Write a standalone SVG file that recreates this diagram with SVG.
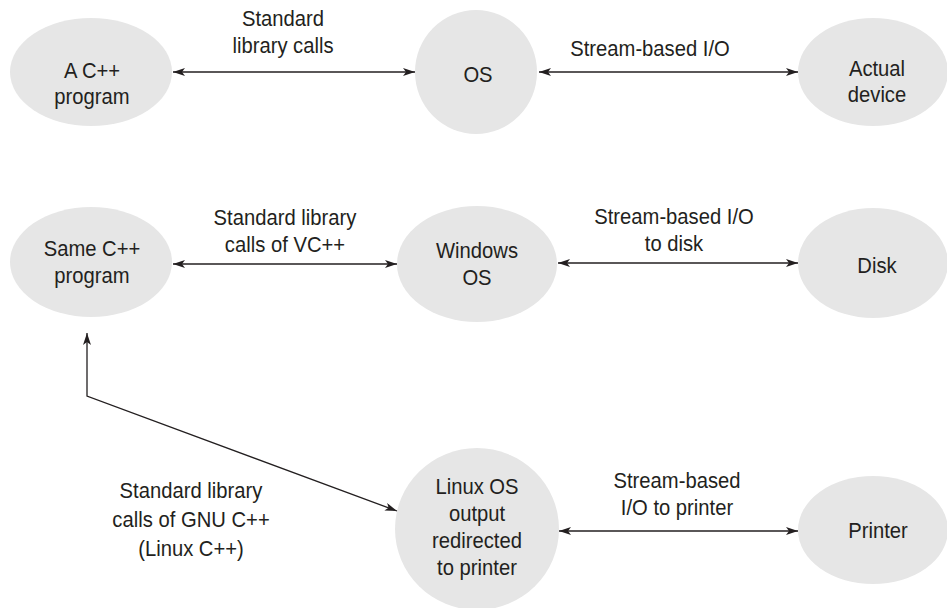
<svg xmlns="http://www.w3.org/2000/svg" width="947" height="608" viewBox="0 0 947 608">
<style>
.n{fill:#e6e6e6;stroke:none}
text{font-family:"Liberation Sans",Arial,sans-serif;font-size:22px;fill:#231f20;text-anchor:middle}
.c{fill:none;stroke:#231f20;stroke-width:1.3}
</style>
<defs>
<marker id="ah" viewBox="0 0 12 8" refX="12" refY="4" markerWidth="12" markerHeight="8" markerUnits="userSpaceOnUse" orient="auto-start-reverse">
<path d="M0,0 L12,4 L0,8 L3,4 Z" fill="#231f20"/>
</marker>
</defs>
<rect width="947" height="608" fill="#fff"/>
<g id="n-acpp"><ellipse class="n" cx="91" cy="72" rx="81" ry="54"/><text transform="translate(92,78) scale(0.92,1)">A C++</text><text transform="translate(92,104) scale(0.92,1)">program</text></g>
<g id="n-os"><ellipse class="n" cx="476" cy="72" rx="61" ry="62"/><text transform="translate(478,82) scale(0.92,1)">OS</text></g>
<g id="n-actual"><ellipse class="n" cx="873" cy="72" rx="75" ry="54"/><text transform="translate(877,76) scale(0.92,1)">Actual</text><text transform="translate(877,102) scale(0.92,1)">device</text></g>
<g id="n-same"><ellipse class="n" cx="91" cy="262" rx="81" ry="55"/><text transform="translate(92,256) scale(0.92,1)">Same C++</text><text transform="translate(92,283) scale(0.92,1)">program</text></g>
<g id="n-win"><ellipse class="n" cx="477" cy="264" rx="80" ry="58"/><text transform="translate(477,258) scale(0.92,1)">Windows</text><text transform="translate(477,285) scale(0.92,1)">OS</text></g>
<g id="n-disk"><ellipse class="n" cx="873" cy="263" rx="75" ry="55"/><text transform="translate(877,273) scale(0.92,1)">Disk</text></g>
<g id="n-linux"><ellipse class="n" cx="477" cy="529" rx="82" ry="81"/><text transform="translate(477,494) scale(0.92,1)">Linux OS</text><text transform="translate(477,521) scale(0.92,1)">output</text><text transform="translate(477,548) scale(0.92,1)">redirected</text><text transform="translate(477,575) scale(0.92,1)">to printer</text></g>
<g id="n-printer"><ellipse class="n" cx="873" cy="530" rx="75" ry="54"/><text transform="translate(878,538) scale(0.92,1)">Printer</text></g>
<g id="connectors">
<line class="c" x1="173" y1="72" x2="415" y2="72" marker-start="url(#ah)" marker-end="url(#ah)"/>
<line class="c" x1="539" y1="72" x2="798" y2="72" marker-start="url(#ah)" marker-end="url(#ah)"/>
<line class="c" x1="173" y1="264" x2="397" y2="264" marker-start="url(#ah)" marker-end="url(#ah)"/>
<line class="c" x1="558" y1="263" x2="798" y2="263" marker-start="url(#ah)" marker-end="url(#ah)"/>
<line class="c" x1="559" y1="531" x2="798" y2="531" marker-start="url(#ah)" marker-end="url(#ah)"/>
<polyline class="c" points="397,511 87,396 87,333" marker-start="url(#ah)" marker-end="url(#ah)"/>
</g>
<g id="labels">
<text transform="translate(283,26) scale(0.92,1)">Standard</text>
<text transform="translate(283,53) scale(0.92,1)">library calls</text>
<text transform="translate(650,56) scale(0.92,1)">Stream-based I/O</text>
<text transform="translate(285,225) scale(0.92,1)">Standard library</text>
<text transform="translate(285,252) scale(0.92,1)">calls of VC++</text>
<text transform="translate(674,224) scale(0.92,1)">Stream-based I/O</text>
<text transform="translate(674,251) scale(0.92,1)">to disk</text>
<text transform="translate(191,498) scale(0.92,1)">Standard library</text>
<text transform="translate(191,527) scale(0.92,1)">calls of GNU C++</text>
<text transform="translate(191,556) scale(0.92,1)">(Linux C++)</text>
<text transform="translate(677,488) scale(0.92,1)">Stream-based</text>
<text transform="translate(677,515) scale(0.92,1)">I/O to printer</text>
</g>
</svg>
